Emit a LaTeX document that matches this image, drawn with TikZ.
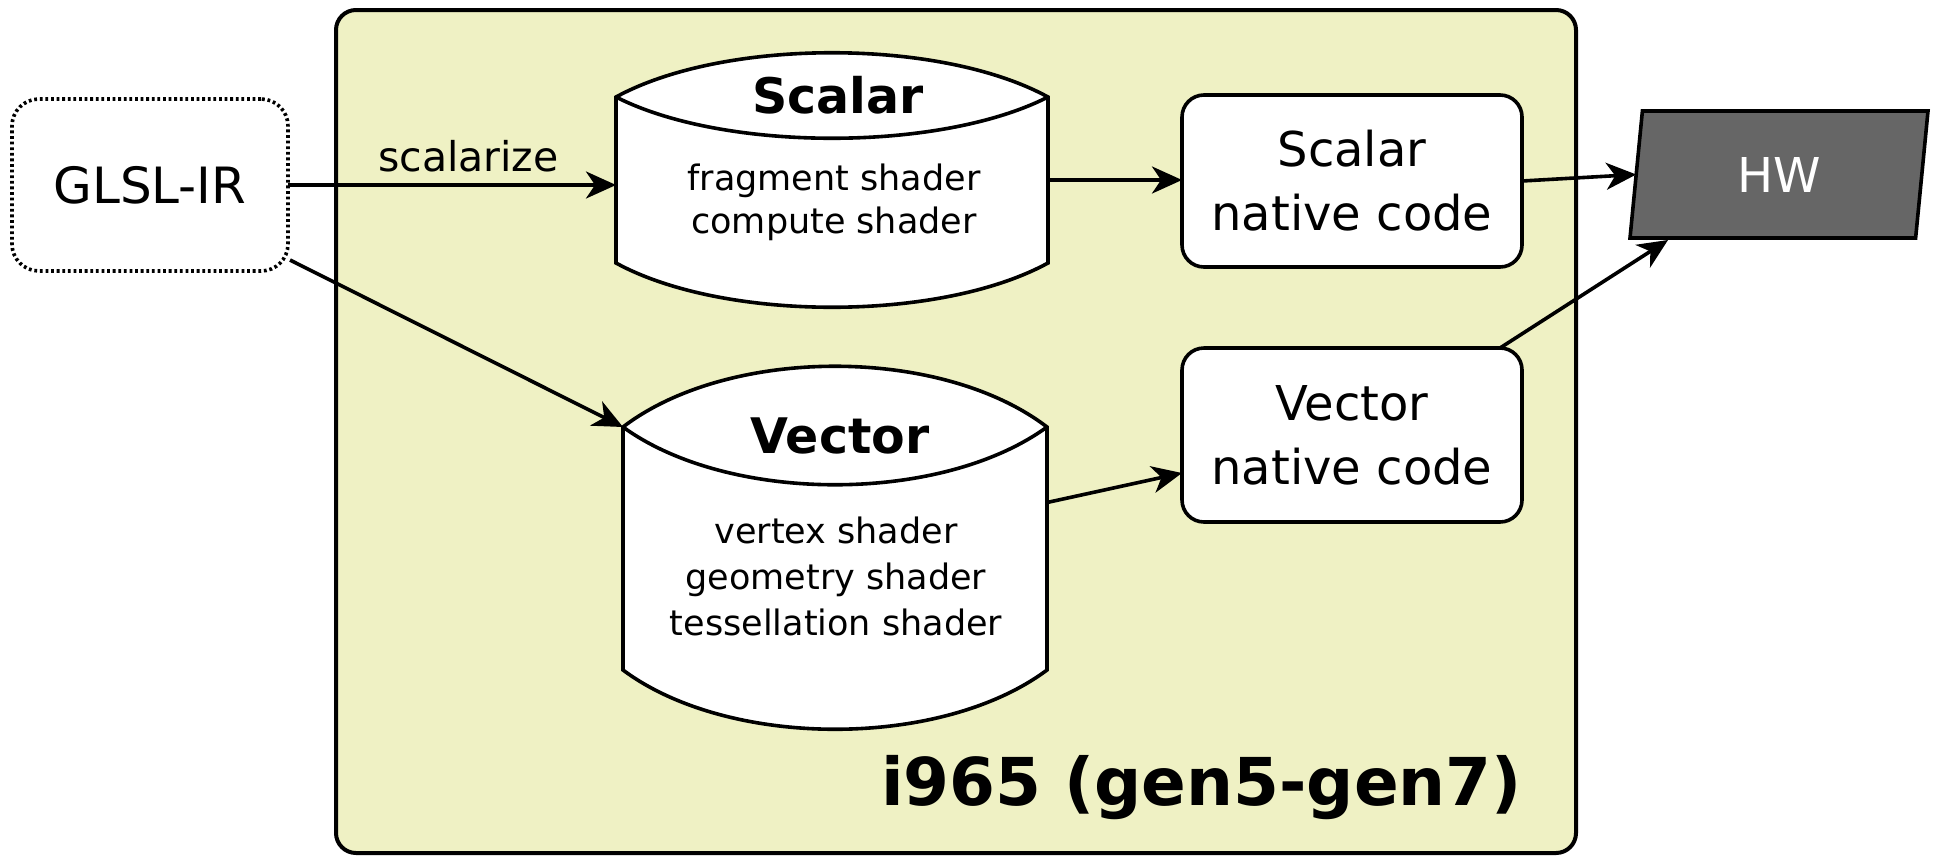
\documentclass[tikz,border=0pt]{standalone}
\usepackage{fontspec}
\setmainfont{DejaVu Sans}
\usetikzlibrary{arrows.meta,shapes.geometric,calc}

\definecolor{panelfill}{RGB}{239,241,196}
\definecolor{hwfill}{RGB}{102,102,102}

\begin{document}
\begin{tikzpicture}[x=1pt,y=-1pt,
  every node/.style={inner sep=0pt, outer sep=0pt},
  conn/.style={line width=3.6pt, -{Stealth[length=30pt,width=27pt,inset=9pt]}},
  panelbox/.style={draw, line width=4pt, fill=panelfill, rounded corners=20pt},
  irbox/.style={draw, line width=3.6pt, dash pattern=on 2.8pt off 2.8pt, rounded corners=27pt, fill=white},
  codebox/.style={draw, line width=3.6pt, rounded corners=22pt, fill=white, align=center,
    minimum width=340pt, minimum height=172pt, font=\fontsize{48}{64}\selectfont},
  drumline/.style={draw, line width=3.6pt, fill=white, line join=miter},
  drumcap/.style={line width=3.6pt},
  drumbody/.style={draw=none, fill=none},
  drumtitle/.style={anchor=base, font=\fontsize{49}{49}\selectfont\bfseries},
  shaderlist/.style={align=center},
  hwbox/.style={draw, line width=3.6pt, fill=hwfill, text=white, trapezium,
    trapezium left angle=70.5, trapezium right angle=109.5, trapezium stretches body,
    minimum width=298pt, minimum height=127pt, font=\fontsize{48}{48}\selectfont},
]
\useasboundingbox (0,0) rectangle (1937,857);

% driver panel
\node[panelbox, minimum width=1240pt, minimum height=843pt] (panel) at (956,431.5) {};
\node[anchor=base east, font=\fontsize{66}{66}\selectfont\bfseries] (gen) at (1522,805) {i965 (gen5-gen7)};

% input IR
\node[irbox, minimum width=276pt, minimum height=172pt, font=\fontsize{50}{50}\selectfont] (glsl) at (150,185) {GLSL-IR};

% back-end bodies (sides of the drum shapes)
\node[drumbody, minimum width=432pt, minimum height=166pt] (scal) at (832,180) {};
\node[drumbody, minimum width=424pt, minimum height=243pt] (vec) at (835,548.5) {};

% scalar drum
\draw[drumline] (scal.north west) .. controls +(108,-59) and +(-108,-59) .. (scal.north east)
  -- (scal.south east) .. controls +(-108,59) and +(108,59) .. (scal.south west) -- cycle;
\draw[drumcap] (scal.north west) .. controls +(108,55) and +(-108,55) .. (scal.north east);
\node[drumtitle] (scaltitle) at (838,113) {Scalar};
\node[shaderlist, font=\fontsize{35}{43}\selectfont] (scallist) at (834,202)
  {fragment shader\\compute shader};

% vector drum
\draw[drumline] (vec.north west) .. controls +(106,-81) and +(-106,-81) .. (vec.north east)
  -- (vec.south east) .. controls +(-106,79) and +(106,79) .. (vec.south west) -- cycle;
\draw[drumcap] (vec.north west) .. controls +(106,77) and +(-106,77) .. (vec.north east);
\node[drumtitle] (vectitle) at (840,453) {Vector};
\node[shaderlist, font=\fontsize{35}{46}\selectfont] (veclist) at (836,576)
  {vertex shader\\geometry shader\\tessellation shader};

% native code
\node[codebox] (snat) at (1352,181) {Scalar\\native code};
\node[codebox, minimum height=174pt] (vnat) at (1352,435) {Vector\\native code};

% hardware
\node[hwbox] (hw) at (1779,174.5) {HW};

% connectors
\draw[conn] (glsl.east) -- (glsl.east -| scal.west)
  node[pos=0.55, anchor=base, yshift=14pt, font=\fontsize{41}{41}\selectfont] (scalarize) {scalarize};
\draw[conn] ($(glsl.south east)+(2,-11)$) -- (vec.north west);
\draw[conn] (scal.east) -- (scal.east -| snat.west);
\draw[conn] ($(vec.east)+(0,-46)$) -- ($(vnat.west)+(0,38)$);
\draw[conn] (snat.east) -- (hw.west);
\draw[conn] ($(vnat.north east)+(-22,0)$) -- ($(hw.bottom left corner)+(38,2)$);
\end{tikzpicture}
\end{document}
